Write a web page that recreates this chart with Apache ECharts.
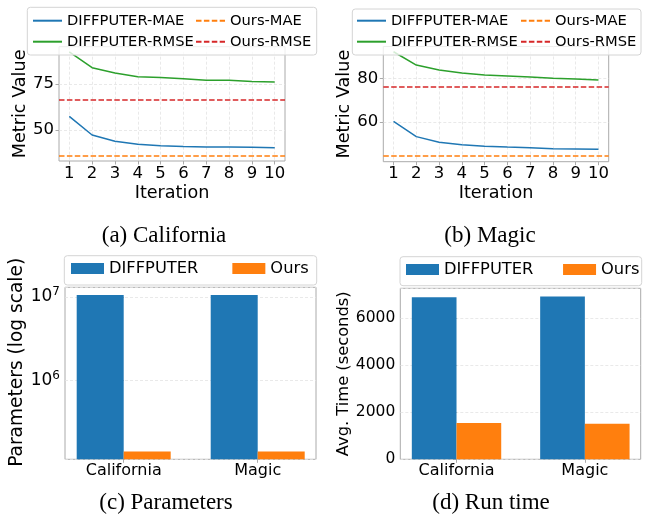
<!DOCTYPE html>
<html>
<head>
<meta charset="utf-8">
<script src="https://cdn.jsdelivr.net/npm/echarts@6/dist/echarts.min.js"></script>
<style>
html, body { margin: 0; padding: 0; background: #fff; }
#main { width: 646px; height: 521px; }
</style>
</head>
<body>
<div id="main"></div>
<script>
// iteration axis and the four convergence curves
var iterations = [1, 2, 3, 4, 5, 6, 7, 8, 9, 10];
var calMae  = [57.4, 47.3, 43.9, 42.2, 41.5, 41.1, 40.8, 40.7, 40.6, 40.4];
var calRmse = [92.5, 83.9, 81.0, 79.0, 78.6, 77.9, 77.0, 77.0, 76.4, 76.1];
var calOurs = [35.9, 66.3];   // MAE, RMSE
var magMae  = [60.3, 53.3, 50.7, 49.6, 48.9, 48.5, 48.2, 47.7, 47.6, 47.5];
var magRmse = [92.2, 86.1, 83.8, 82.4, 81.5, 81.1, 80.6, 80.1, 79.7, 79.2];
var magOurs = [44.4, 76.3];

// bar panels
var datasets   = ['California', 'Magic'];
var paramsDiff = [1.05e7, 1.05e7];
var paramsOurs = [1.40e5, 1.40e5];
var timeDiff   = [6894, 6936];
var timeOurs   = [1545, 1515];

var C_BLUE = '#1f77b4', C_ORANGE = '#ff7f0e', C_GREEN = '#2ca02c', C_RED = '#d62728';
var FONT = 'DejaVu Sans';
var SPINE = '#aaaaaa';
var DASH = [5.5, 2.4];

var myChart = echarts.init(document.getElementById('main'));

function pairs(xs, ys) {
	return xs.map(function(x, i) { return [x, ys[i]]; });
}

function curve(name, color, idx, values) {
	return {
		name: name, type: 'line', xAxisIndex: idx, yAxisIndex: idx,
		data: pairs(iterations, values), symbol: 'none',
		lineStyle: { color: color, width: 1.5 }, itemStyle: { color: color }
	};
}

// horizontal reference line across the whole panel
function refLine(name, color, idx, value) {
	return {
		name: name, type: 'line', xAxisIndex: idx, yAxisIndex: idx, data: [], symbol: 'none',
		lineStyle: { color: color, width: 1.5, type: DASH }, itemStyle: { color: color },
		markLine: {
			silent: true, symbol: ['none', 'none'], label: { show: false },
			lineStyle: { color: color, width: 1.5, type: DASH },
			data: [{ yAxis: value }]
		}
	};
}

function bars(name, color, idx, values, width) {
	return {
		name: name, type: 'bar', xAxisIndex: idx, yAxisIndex: idx,
		data: pairs([0, 1], values), barWidth: width, barGap: '0%',
		itemStyle: { color: color }
	};
}

var splitDash = { show: true, lineStyle: { color: '#e3e3e3', type: [3, 2], width: 0.8 } };
var tick = { show: true, length: 3.5, lineStyle: { color: SPINE } };

function lineXAxis(idx) {
	return {
		type: 'value', gridIndex: idx, min: 0.55, max: 10.45,
		name: 'Iteration', nameLocation: 'middle', nameGap: 23,
		nameTextStyle: { fontFamily: FONT, fontSize: 17.6, color: '#000' },
		axisLine: { show: false },
		axisTick: { show: true, length: 3.5, lineStyle: { color: SPINE }, customValues: iterations },
		axisLabel: { customValues: iterations, margin: 4, fontFamily: FONT, fontSize: 16.5, color: '#000' },
		splitLine: splitDash
	};
}

function lineYAxis(idx, min, max, ticks) {
	return {
		type: 'value', gridIndex: idx, min: min, max: max,
		name: 'Metric Value', nameLocation: 'middle', nameGap: 29,
		nameTextStyle: { fontFamily: FONT, fontSize: 17.6, color: '#000' },
		axisLine: { show: false },
		axisTick: { show: true, length: 3.5, lineStyle: { color: SPINE }, customValues: ticks },
		axisLabel: { customValues: ticks, margin: 5, fontFamily: FONT, fontSize: 16.5, color: '#000' },
		splitLine: splitDash
	};
}

function barXAxis(idx) {
	return {
		type: 'value', gridIndex: idx, min: -0.438, max: 1.435,
		axisLine: { show: false },
		axisTick: { show: true, length: 3.5, lineStyle: { color: SPINE }, customValues: [0, 1] },
		axisLabel: {
			customValues: [0, 1], margin: 4, fontFamily: FONT, fontSize: 16, color: '#000',
			formatter: function(v) { return datasets[Math.round(v)]; }
		},
		splitLine: { show: false }
	};
}

function box(x, y, w, h) {
	return {
		type: 'rect', z: 5, silent: true,
		shape: { x: x, y: y, width: w, height: h, r: 3 },
		style: { fill: 'rgba(255,255,255,0.8)', stroke: '#d4d4d4', lineWidth: 1 }
	};
}

function caption(text, x, y) {
	return {
		type: 'text', x: x, y: y, silent: true,
		style: { text: text, fontFamily: 'Liberation Serif', fontSize: 23, fill: '#000', align: 'center', verticalAlign: 'middle' }
	};
}

// line legends: hide the marker dot, keep only the line stroke
function lineLegend(names, left) {
	return {
		data: names, orient: 'vertical', left: left, top: 12.7, padding: 0, z: 6,
		itemWidth: 29, itemHeight: 14, itemGap: 5,
		itemStyle: { opacity: 0 },
		textStyle: { fontFamily: FONT, fontSize: 14.7, color: '#000', lineHeight: 16 }
	};
}

function barLegend(left, top, gap) {
	return {
		data: ['DIFFPUTER', 'Ours'], orient: 'horizontal', left: left, top: top, padding: 0, z: 6,
		icon: 'rect', itemWidth: 33, itemHeight: 11, itemGap: gap,
		textStyle: { fontFamily: FONT, fontSize: 16.3, color: '#000' }
	};
}

var gridBase = { show: true, borderColor: SPINE, borderWidth: 1, backgroundColor: 'transparent', containLabel: false };

var Option = {
	animation: false,
	textStyle: { fontFamily: FONT },
	grid: [
		Object.assign({ left: 59, top: 46.7, width: 226, height: 114.3 }, gridBase),
		Object.assign({ left: 383.3, top: 46.5, width: 225.4, height: 115.2 }, gridBase),
		Object.assign({ left: 65, top: 287.3, width: 251, height: 172 }, gridBase),
		Object.assign({ left: 400.3, top: 288.3, width: 240.4, height: 171 }, gridBase)
	],
	xAxis: [lineXAxis(0), lineXAxis(1), barXAxis(2), barXAxis(3)],
	yAxis: [
		lineYAxis(0, 33.15, 95.3, [50, 75]),
		lineYAxis(1, 41.8, 94.6, [60, 80]),
		{
			type: 'log', logBase: 10, gridIndex: 2, min: Math.pow(10, 5.053), max: Math.pow(10, 7.114),
			name: 'Parameters (log scale)', nameLocation: 'middle', nameGap: 34,
			nameTextStyle: { fontFamily: FONT, fontSize: 18.6, color: '#000', padding: [0, 0, 0, 22] },
			axisLine: { show: false }, axisTick: tick,
			axisLabel: {
				margin: 5, showMinLabel: false, showMaxLabel: false,
				formatter: function(v) { return '{b|10}{s|' + Math.round(Math.log10(v)) + '}'; },
				rich: {
					b: { fontFamily: FONT, fontSize: 17, color: '#000' },
					s: { fontFamily: FONT, fontSize: 12, color: '#000', padding: [0, 0, 9, 0] }
				}
			},
			splitLine: splitDash
		},
		{
			type: 'value', gridIndex: 3, min: 0, max: 7280, interval: 2000,
			name: 'Avg. Time (seconds)', nameLocation: 'middle', nameGap: 44,
			nameTextStyle: { fontFamily: FONT, fontSize: 16.3, color: '#000' },
			axisLine: { show: false }, axisTick: tick,
			axisLabel: {
				margin: 5, fontFamily: FONT, fontSize: 15.5, color: '#000', showMaxLabel: false,
				formatter: function(v) { return String(v); }
			},
			splitLine: splitDash
		}
	],
	legend: [
		lineLegend(['DIFFPUTER-MAE', 'DIFFPUTER-RMSE'], 32),
		lineLegend(['Ours-MAE', 'Ours-RMSE'], 195),
		lineLegend(['DIFFPUTER-MAE', 'DIFFPUTER-RMSE'], 356),
		lineLegend(['Ours-MAE', 'Ours-RMSE'], 520),
		barLegend(71, 260.5, 34),
		barLegend(406, 261.5, 29.7)
	],
	graphic: {
		elements: [
			box(27.3, 7.3, 289.4, 47.7),
			box(352.3, 9, 288.7, 46),
			box(64.3, 255.7, 252.4, 29.3),
			box(400, 256.7, 241.7, 29),
			caption('(a) California', 164, 236),
			caption('(b) Magic', 490, 236),
			caption('(c) Parameters', 166, 503),
			caption('(d) Run time', 491, 503)
		]
	},
	series: [
		curve('DIFFPUTER-MAE', C_BLUE, 0, calMae),
		curve('DIFFPUTER-RMSE', C_GREEN, 0, calRmse),
		refLine('Ours-MAE', C_ORANGE, 0, calOurs[0]),
		refLine('Ours-RMSE', C_RED, 0, calOurs[1]),
		curve('DIFFPUTER-MAE', C_BLUE, 1, magMae),
		curve('DIFFPUTER-RMSE', C_GREEN, 1, magRmse),
		refLine('Ours-MAE', C_ORANGE, 1, magOurs[0]),
		refLine('Ours-RMSE', C_RED, 1, magOurs[1]),
		bars('DIFFPUTER', C_BLUE, 2, paramsDiff, 47),
		bars('Ours', C_ORANGE, 2, paramsOurs, 47),
		bars('DIFFPUTER', C_BLUE, 3, timeDiff, 44.7),
		bars('Ours', C_ORANGE, 3, timeOurs, 44.7)
	]
};

myChart.setOption(Option);
</script>
</body>
</html>
